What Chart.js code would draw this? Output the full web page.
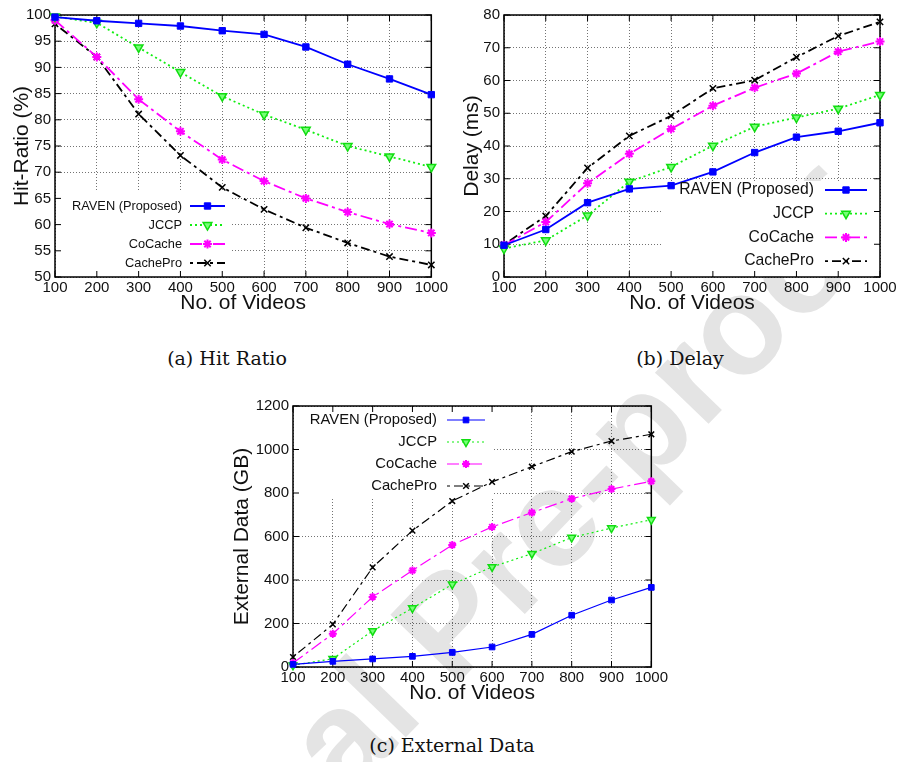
<!DOCTYPE html>
<html lang="en">
<head>
<meta charset="utf-8" />
<title>RAVEN vs JCCP / CoCache / CachePro</title>
<script src="https://cdn.jsdelivr.net/npm/chart.js@4.4.1/dist/chart.umd.min.js"></script>
<style>
  body { margin: 0; background: #fff; width: 901px; height: 762px; position: relative; overflow: hidden; }
  .panel { position: absolute; }
  .cap { position: absolute; width: 300px; text-align: center; font-family: "DejaVu Serif", "Liberation Serif", serif; font-size: 19px; color: #111; line-height: 24px; }
  #wm { position: absolute; left: -10px; top: 998px; font: bold 140px "Liberation Sans", Arial, sans-serif; line-height: 1;
        color: #e4e4e4; white-space: nowrap; transform: rotate(-46deg); transform-origin: 0 0; }
</style>
</head>
<body>
<div id="wm">Journal Pre-proof</div>

<div class="panel" style="left:0;top:0"><canvas id="hit" width="450" height="320"></canvas></div>
<div class="panel" style="left:450px;top:0"><canvas id="delay" width="451" height="320"></canvas></div>
<div class="panel" style="left:220px;top:390px"><canvas id="ext" width="450" height="320"></canvas></div>

<div class="cap" style="left:77px;top:346px">(a) Hit Ratio</div>
<div class="cap" style="left:530px;top:346px">(b) Delay</div>
<div class="cap" style="left:302px;top:733px">(c) External Data</div>

<script>
// number of videos on the x axis
var videos = ['100', '200', '300', '400', '500', '600', '700', '800', '900', '1000'];
var names = ['RAVEN (Proposed)', 'JCCP', 'CoCache', 'CachePro'];

// (a) hit ratio, %
var hitRaven    = [99.6, 98.9, 98.4, 97.9, 97.0, 96.3, 93.9, 90.6, 87.8, 84.8];
var hitJccp     = [99.7, 98.5, 93.8, 89.1, 84.5, 81.0, 78.1, 75.0, 73.0, 71.0];
var hitCocache  = [99.0, 92.0, 83.9, 77.8, 72.4, 68.3, 65.0, 62.4, 60.1, 58.4];
var hitCachepro = [98.3, 92.0, 81.1, 73.2, 67.1, 62.9, 59.4, 56.5, 53.9, 52.3];

// (b) delay, ms
var delayRaven    = [9.7, 14.5, 22.7, 26.9, 27.9, 32.1, 38.0, 42.7, 44.5, 47.1];
var delayJccp     = [8.7, 11.2, 18.8, 29.1, 33.6, 40.1, 45.9, 48.7, 51.4, 55.6];
var delayCocache  = [9.7, 16.8, 28.6, 37.6, 45.2, 52.3, 57.8, 62.1, 68.8, 71.9];
var delayCachepro = [9.9, 18.6, 33.3, 43.1, 49.2, 57.6, 60.1, 67.1, 73.6, 77.9];

// (c) external data, GB
var extRaven    = [12, 26, 37, 49, 67, 92, 150, 238, 308, 366];
var extJccp     = [8, 38, 166, 271, 380, 460, 521, 595, 639, 677];
var extCocache  = [18, 153, 322, 444, 561, 644, 710, 774, 818, 854];
var extCachepro = [46, 196, 458, 627, 763, 851, 921, 990, 1039, 1070];

var FONT = '"Liberation Sans", Arial, Helvetica, sans-serif';

// gnuplot style key: white box, right aligned text, sample line + marker
var gnuKey = {
  id: 'gnuKey',
  beforeDatasetsDraw: function(chart, args, o) {
    var ctx = chart.ctx, a = chart.chartArea;
    ctx.save();
    ctx.fillStyle = '#fff';
    ctx.fillRect(o.box[0], o.box[1], o.box[2] - o.box[0], o.box[3] - o.box[1]);
    ctx.strokeStyle = '#000';
    ctx.lineWidth = 1;
    var xs = chart.scales.x, ys = chart.scales.y;
    ctx.beginPath();
    xs.ticks.forEach(function(t, i) {
      var p = xs.getPixelForTick(i);
      ctx.moveTo(p, a.bottom); ctx.lineTo(p, a.bottom - 6);
      ctx.moveTo(p, a.top); ctx.lineTo(p, a.top + 6);
    });
    ys.ticks.forEach(function(t, i) {
      var p = ys.getPixelForTick(i);
      ctx.moveTo(a.left, p); ctx.lineTo(a.left + 6, p);
      ctx.moveTo(a.right, p); ctx.lineTo(a.right - 6, p);
    });
    ctx.stroke();
    ctx.lineWidth = 1.5;
    ctx.strokeRect(a.left, a.top, a.right - a.left, a.bottom - a.top);
    ctx.restore();
  },
  afterDatasetsDraw: function(chart, args, o) {
    var ctx = chart.ctx;
    ctx.save();
    ctx.font = o.size + 'px ' + FONT;
    ctx.textAlign = 'right';
    ctx.textBaseline = 'middle';
    chart.data.datasets.forEach(function(ds, i) {
      var yy = o.top + i * o.row;
      ctx.fillStyle = '#111';
      ctx.fillText(ds.label, o.textRight, yy);
      ctx.strokeStyle = ds.borderColor;
      ctx.lineWidth = ds.borderWidth;
      ctx.setLineDash(ds.borderDash || []);
      ctx.beginPath();
      ctx.moveTo(o.sample[0], yy);
      ctx.lineTo(o.sample[1], yy);
      ctx.stroke();
      ctx.setLineDash([]);
      ctx.fillStyle = ds.pointBackgroundColor;
      ctx.strokeStyle = ds.pointBorderColor;
      ctx.lineWidth = ds.pointBorderWidth;
      Chart.helpers.drawPoint(ctx, {
        pointStyle: ds.pointStyle, rotation: ds.pointRotation || 0,
        radius: ds.pointRadius, borderWidth: ds.pointBorderWidth
      }, (o.sample[0] + o.sample[1]) / 2, yy);
    });
    ctx.restore();
  }
};

function sets(vals, lw, r) {
  return [
    { label: names[0], data: vals[0], borderColor: '#0000ff', pointBackgroundColor: '#0000ff', pointBorderColor: '#0000ff',
      pointStyle: 'rect', pointRadius: r, borderWidth: lw, pointBorderWidth: 1, borderDash: [] },
    { label: names[1], data: vals[1], borderColor: '#11ee11', pointBackgroundColor: '#77ff77', pointBorderColor: '#11dd11',
      pointStyle: 'triangle', pointRotation: 180, pointRadius: r + 0.5, borderWidth: lw, pointBorderWidth: 1.5, borderDash: [2, 3] },
    { label: names[2], data: vals[2], borderColor: '#ff00ff', pointBackgroundColor: '#ff00ff', pointBorderColor: '#ff00ff',
      pointStyle: 'star', pointRadius: r, borderWidth: lw, pointBorderWidth: 2, borderDash: [12, 4, 3, 4] },
    { label: names[3], data: vals[3], borderColor: '#000000', pointBackgroundColor: '#000000', pointBorderColor: '#000000',
      pointStyle: 'crossRot', pointRadius: r, borderWidth: lw, pointBorderWidth: 1.5, borderDash: [3, 4, 9, 4] }
  ];
}

function makeChart(id, vals, lw, r, y, yTitle, yWidth, pad, key) {
  return new Chart(document.getElementById(id), {
    type: 'line',
    data: { labels: videos, datasets: sets(vals, lw, r) },
    plugins: [gnuKey],
    options: {
      responsive: false,
      animation: false,
      devicePixelRatio: 1,
      layout: { padding: pad },
      elements: { line: { tension: 0, fill: false }, point: { hoverRadius: 5 } },
      datasets: { line: { clip: 8 } },
      plugins: { legend: { display: false }, tooltip: { enabled: false }, gnuKey: key },
      scales: {
        x: {
          offset: false,
          grid: { offset: false, color: 'rgba(0,0,0,0.55)', drawTicks: false },
          border: { display: false, dash: [1, 2] },
          ticks: { color: '#111', font: { family: FONT, size: 15 }, padding: 2, maxRotation: 0, autoSkip: false },
          title: { display: true, text: 'No. of Videos', color: '#111', font: { family: FONT, size: 21 }, padding: { top: 0, bottom: 4 } },
          afterFit: function(s) { s.height = 43; }
        },
        y: {
          min: y.min, max: y.max,
          grid: { color: 'rgba(0,0,0,0.55)', drawTicks: false },
          border: { display: false, dash: [1, 2] },
          ticks: { stepSize: y.step, color: '#111', font: { family: FONT, size: 15 }, padding: 4,
                   callback: function(v) { return String(v); } },
          title: { display: true, text: yTitle, color: '#111', font: { family: FONT, size: 21 }, padding: { top: 10, bottom: 0 } },
          afterFit: function(s) { s.width = yWidth; }
        }
      }
    }
  });
}

makeChart('hit', [hitRaven, hitJccp, hitCocache, hitCachepro], 1.8, 4.5,
  { min: 50, max: 100, step: 5 }, 'Hit-Ratio (%)', 55,
  { top: 15, right: 18, left: 0, bottom: 0 },
  { box: [56, 190, 232, 276], top: 206, row: 19, size: 12.8, textRight: 182, sample: [190, 225] });

makeChart('delay', [delayRaven, delayJccp, delayCocache, delayCachepro], 1.8, 4.5,
  { min: 0, max: 80, step: 10 }, 'Delay (ms)', 54,
  { top: 15, right: 21, left: 0, bottom: 0 },
  { box: [213, 181, 429, 276], top: 190, row: 23.7, size: 15.7, textRight: 364, sample: [375, 417] });

makeChart('ext', [extRaven, extJccp, extCocache, extCachepro], 1.2, 4,
  { min: 0, max: 1200, step: 200 }, 'External Data (GB)', 73,
  { top: 16, right: 18, left: 0, bottom: 0 },
  { box: [74, 17, 274, 108], top: 30, row: 22, size: 14.8, textRight: 217, sample: [227, 265] });
</script>
</body>
</html>
